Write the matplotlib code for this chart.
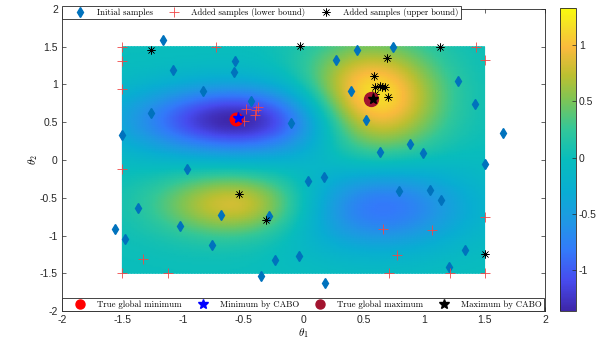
import numpy as np
import matplotlib
matplotlib.use("Agg")
import matplotlib.pyplot as plt
from matplotlib.colors import LinearSegmentedColormap
from matplotlib.lines import Line2D

plt.rcParams["font.family"] = "Liberation Sans"
plt.rcParams["mathtext.fontset"] = "cm"

# initial design (blue diamonds)
init_x = [-1.165, -1.08, -0.566, -0.574, -0.83, -1.26, -0.433, -0.10, -1.507, -0.963,
          0.268, 0.44, 0.745, 0.395, 0.52, 1.28, 1.42, 1.65, 0.886, 0.635, 0.99, 1.50,
          -1.372, -1.565, -1.477, -1.02, -0.687, -0.76, -0.284, -0.238, -0.348, -0.039,
          0.036, 0.166, 0.79, 1.05, 1.14, 1.336, 1.207, 0.18]
init_y = [1.59, 1.19, 1.31, 1.16, 0.92, 0.62, 0.78, 0.49, 0.335, -0.115,
          1.33, 1.46, 1.50, 0.91, 0.53, 1.04, 0.745, 0.36, 0.21, 0.11, 0.089, -0.05,
          -0.63, -0.91, -1.046, -0.875, -0.724, -1.126, -0.746, -1.32, -1.53, -1.27,
          -0.278, -0.22, -0.41, -0.40, -0.525, -1.19, -1.42, -1.625]

# samples added from the lower confidence bound
lower_x = [-1.5, -1.5, -1.5, -0.726, -1.5, -0.48, -0.39, -0.40, -0.49, -0.38,
           1.43, 1.5, -1.5, -1.12, -1.325, 1.5, 0.657, 1.063, 0.773, 0.712, 1.217, 1.5]
lower_y = [1.5, 1.31, 0.94, 1.5, -0.115, 0.67, 0.66, 0.59, 0.52, 0.70,
           1.5, 1.33, -1.49, -1.49, -1.315, -0.75, -0.918, -0.93, -1.254, -1.49, -1.49, -1.49]

# samples added from the upper confidence bound
upper_x = [-1.26, -0.025, 1.13, 0.69, 0.588, 0.594, 0.63, 0.676, 0.704, 0.594, 0.65,
           -0.535, -0.31, 1.505]
upper_y = [1.457, 1.505, 1.5, 1.355, 1.11, 0.963, 0.98, 0.97, 0.84, 0.88, 0.97,
           -0.446, -0.79, -1.25]

true_min = (-0.563, 0.539)
cabo_min = (-0.544, 0.56)
true_max = (0.56, 0.81)
cabo_max = (0.574, 0.81)

# objective surface as a sum of gaussian bumps: (amplitude, x0, y0, sx, sy)
bump_amp = [-1.36, 1.33, 0.88, -0.88]
bump_x0 = [-0.55, 0.57, -0.55, 0.62]
bump_y0 = [0.53, 0.80, -0.58, -0.62]
bump_sx = [0.62, 0.38, 0.45, 0.52]
bump_sy = [0.33, 0.50, 0.30, 0.40]
clim = (-1.36, 1.33)

parula_pos = [0.0, 0.1, 0.2, 0.3, 0.4, 0.5, 0.6, 0.7, 0.78, 0.87, 0.94, 1.0]
parula_rgb = [(0.2422, 0.1504, 0.6603), (0.2780, 0.2950, 0.9380), (0.2000, 0.4800, 0.9800),
              (0.1200, 0.6000, 0.8900), (0.0300, 0.6850, 0.8200), (0.0300, 0.7400, 0.7400),
              (0.2000, 0.7800, 0.6000), (0.5000, 0.7700, 0.3300), (0.7400, 0.7500, 0.1900),
              (0.9800, 0.7300, 0.2400), (0.9600, 0.8700, 0.1600), (0.9763, 0.9831, 0.0538)]
parula = LinearSegmentedColormap.from_list("parula", list(zip(parula_pos, parula_rgb)))

g = np.linspace(-1.5, 1.5, 121)
X, Y = np.meshgrid(g, g)
Z = np.zeros_like(X)
for a, x0, y0, sx, sy in zip(bump_amp, bump_x0, bump_y0, bump_sx, bump_sy):
    Z += a * np.exp(-((X - x0) ** 2 / (2 * sx ** 2) + (Y - y0) ** 2 / (2 * sy ** 2)))

fig = plt.figure(figsize=(6.06, 3.44), dpi=100)
ax = fig.add_axes([0.1023, 0.0959, 0.797, 0.878])
cax = fig.add_axes([0.924, 0.0959, 0.0264, 0.881])

mesh = ax.pcolormesh(X, Y, Z, cmap=parula, shading="gouraud", vmin=clim[0], vmax=clim[1])

blue = (0, 0.447, 0.741)
red = "#f04848"
dark_red = (0.635, 0.078, 0.184)
ax.plot(init_x, init_y, "d", color=blue, ms=5, mec=blue, ls="none")
ax.plot(lower_x, lower_y, "+", color=red, ms=7, mew=0.6, ls="none")
ax.plot(upper_x, upper_y, marker=(8, 2, 0), color="k", ms=6, mew=0.4, ls="none")
ax.plot(*true_min, "o", color="r", ms=9)
ax.plot(*cabo_min, "*", color="b", ms=8)
ax.plot(*true_max, "o", color=dark_red, ms=10)
ax.plot(*cabo_max, "*", color="k", ms=8)

ax.set_xlim(-2, 2)
ax.set_ylim(-2, 2)
ticks = np.arange(-2, 2.01, 0.5)
tick_text = ["-2", "-1.5", "-1", "-0.5", "0", "0.5", "1", "1.5", "2"]
ax.set_xticks(ticks)
ax.set_yticks(ticks)
ax.set_xticklabels(tick_text)
ax.set_yticklabels(tick_text)
ax.tick_params(direction="in", top=True, right=True, length=3, width=0.5,
               labelsize=7.5, colors=(0.15, 0.15, 0.15), pad=3)
for s in ax.spines.values():
    s.set_color((0.15, 0.15, 0.15))
    s.set_linewidth(0.6)
ax.set_xlabel(r"$\theta_1$", fontsize=8, labelpad=1)
ax.set_ylabel(r"$\theta_2$", fontsize=8, labelpad=0)

cb = fig.colorbar(mesh, cax=cax, ticks=[-1, -0.5, 0, 0.5, 1])
cb.ax.set_yticklabels(["-1", "-0.5", "0", "0.5", "1"])
cb.ax.tick_params(direction="in", length=3, width=0.5, labelsize=7.5,
                  colors=(0.15, 0.15, 0.15), pad=2)
cb.outline.set_linewidth(0.6)
cb.outline.set_edgecolor((0.15, 0.15, 0.15))

legend_font = {"family": "cmr10", "size": 6.3}
legend_opts = dict(prop=legend_font, frameon=True, fancybox=False, framealpha=1,
                   edgecolor=(0.15, 0.15, 0.15), borderpad=0.25, handlelength=3.6,
                   handletextpad=0.15, columnspacing=0.6, borderaxespad=0)

top_handles = [
    Line2D([], [], marker="d", color=blue, ms=5, ls="none", label="Initial samples"),
    Line2D([], [], marker="+", color=red, ms=7, mew=0.6, ls="none", label="Added samples (lower bound)"),
    Line2D([], [], marker=(8, 2, 0), color="k", ms=6, mew=0.4, ls="none", label="Added samples (upper bound)"),
]
leg1 = ax.legend(handles=top_handles, loc="upper left", bbox_to_anchor=(0, 1.01),
                 ncol=3, **legend_opts)
leg1.get_frame().set_linewidth(0.6)
ax.add_artist(leg1)

bottom_handles = [
    Line2D([], [], marker="o", color="r", ms=6.5, ls="none", label="True global minimum"),
    Line2D([], [], marker="*", color="b", ms=7, ls="none", label="Minimum by CABO"),
    Line2D([], [], marker="o", color=dark_red, ms=6.5, ls="none", label="True global maximum"),
    Line2D([], [], marker="*", color="k", ms=7, ls="none", label="Maximum by CABO"),
]
leg2 = ax.legend(handles=bottom_handles, loc="lower left", bbox_to_anchor=(0, 0),
                 ncol=4, **legend_opts)
leg2.get_frame().set_linewidth(0.6)

fig.savefig("out.png", dpi=100)
